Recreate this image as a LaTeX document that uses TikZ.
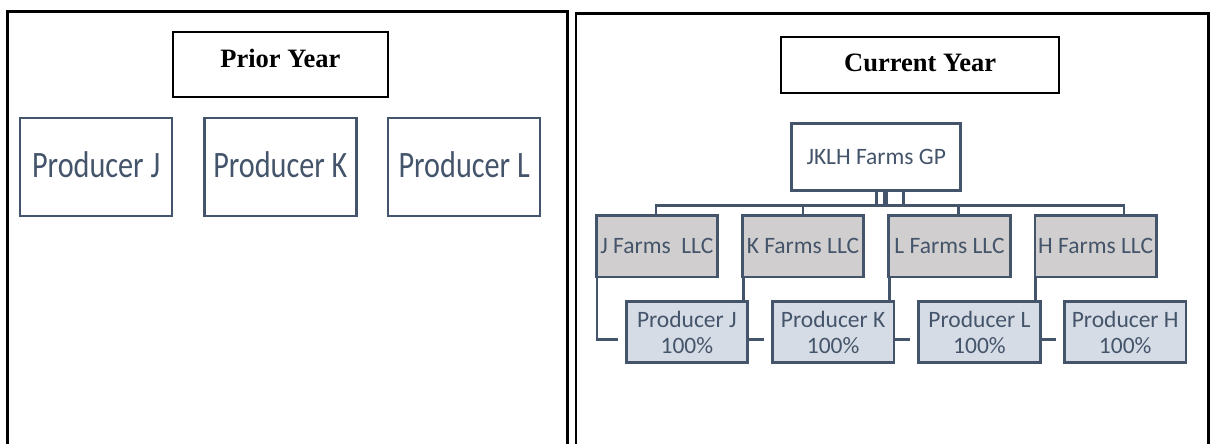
\documentclass[tikz,border=0pt]{standalone}
\usepackage{fontspec}
\usetikzlibrary{backgrounds}
\newfontfamily\calfont{Carlito}
\newfontfamily\calnarrow{Carlito}[FakeStretch=0.81]
\newfontfamily\titlefont{Liberation Serif}
\definecolor{slate}{HTML}{44546A}
\definecolor{llcgray}{HTML}{D0CECE}
\definecolor{prodblue}{HTML}{D6DCE5}

\begin{document}
\begin{tikzpicture}[x=1pt,y=-1pt,
  panel/.style={draw=black,line width=2.6pt},
  titlebox/.style={draw=black,line width=2.2pt,fill=white,inner sep=0pt,
    font=\titlefont\bfseries\fontsize{26.5}{30}\selectfont},
  oldprod/.style={draw=slate,line width=2.3pt,text=slate,inner sep=0pt,
    minimum width=152pt,minimum height=98pt,
    font=\calnarrow\fontsize{37.3}{40}\selectfont,text height=20pt,text depth=0pt},
  gpbox/.style={draw=slate,line width=2.8pt,fill=white,text=slate,inner sep=0pt,
    minimum width=169pt,minimum height=67.4pt,
    font=\calfont\fontsize{23.5}{26}\selectfont,text height=15pt,text depth=0pt},
  llcbox/.style={gpbox,fill=llcgray,minimum width=121.5pt,minimum height=61.3pt},
  prodbox/.style={draw=slate,line width=2.8pt,fill=prodblue,text=slate,inner sep=0pt,
    minimum width=121.5pt,minimum height=61pt,align=center,
    font=\calfont\fontsize{23.5}{26}\selectfont},
  link/.style={draw=slate,line width=2.8pt}
]
\useasboundingbox (0,0) rectangle (1210,444);
\clip (0,0) rectangle (1210,444);

% the two open-bottomed frames
\draw[panel] (7.3,450) -- (7.3,11.7) -- (567.3,11.7) -- (567.3,450);
\draw[panel] (576,450) -- (576,13.5) -- (1208.3,13.5) -- (1208.3,450);

% prior year
\node[titlebox,minimum width=214.7pt,minimum height=65pt,text height=20pt,text depth=13pt]
  (prior) at (280.35,64.2) {Prior Year};
\node[oldprod] (oldJ) at (96.15,167.3) {Producer J};
\node[oldprod] (oldK) at (280.35,167.3) {Producer K};
\node[oldprod] (oldL) at (464.15,167.3) {Producer L};

% current year
\node[titlebox,minimum width=278.3pt,minimum height=56pt,text height=18pt,text depth=4pt]
  (current) at (920.15,64.7) {Current Year};
\node[gpbox] (gp) at (876.2,157) {JKLH Farms GP};

\node[llcbox] (llcJ) at (656.85,246.35) {J Farms\ \ LLC};
\node[llcbox] (llcK) at (803,246.35) {K Farms LLC};
\node[llcbox] (llcL) at (949.5,246.35) {L Farms LLC};
\node[llcbox] (llcH) at (1095.65,246.35) {H Farms LLC};

\node[prodbox] (prodJ) at (686.85,332.2) {Producer J\\100\%};
\node[prodbox] (prodK) at (833.15,332.2) {Producer K\\100\%};
\node[prodbox] (prodL) at (979.5,332.2) {Producer L\\100\%};
\node[prodbox] (prodH) at (1125.2,332.2) {Producer H\\100\%};

\begin{pgfonlayer}{background}
  % GP to each LLC
  \draw[link] (gp.south) -- ++(0,13.6) -| ([xshift=-0.9pt]llcJ.north);
  \draw[link] ([xshift=8pt]gp.south) -- ++(0,13.6) -| (llcK.north);
  \draw[link] ([xshift=10.5pt]gp.south) -- ++(0,13.6) -| ([xshift=9.2pt]llcL.north);
  \draw[link] ([xshift=27.5pt]gp.south) -- ++(0,13.6) -| ([xshift=28.3pt]llcH.north);
  % each LLC to its producer
  \draw[link] ([xshift=2.3pt]llcJ.south west) |- ([xshift=-7pt,yshift=-7.1pt]prodJ.west);
  \draw[link] ([xshift=2.3pt]llcK.south west) |- ([xshift=-7pt,yshift=-7.1pt]prodK.west);
  \draw[link] ([xshift=2.3pt]llcL.south west) |- ([xshift=-7pt,yshift=-7.1pt]prodL.west);
  \draw[link] ([xshift=2.3pt]llcH.south west) |- ([xshift=-7pt,yshift=-7.1pt]prodH.west);
\end{pgfonlayer}
\end{tikzpicture}
\end{document}
